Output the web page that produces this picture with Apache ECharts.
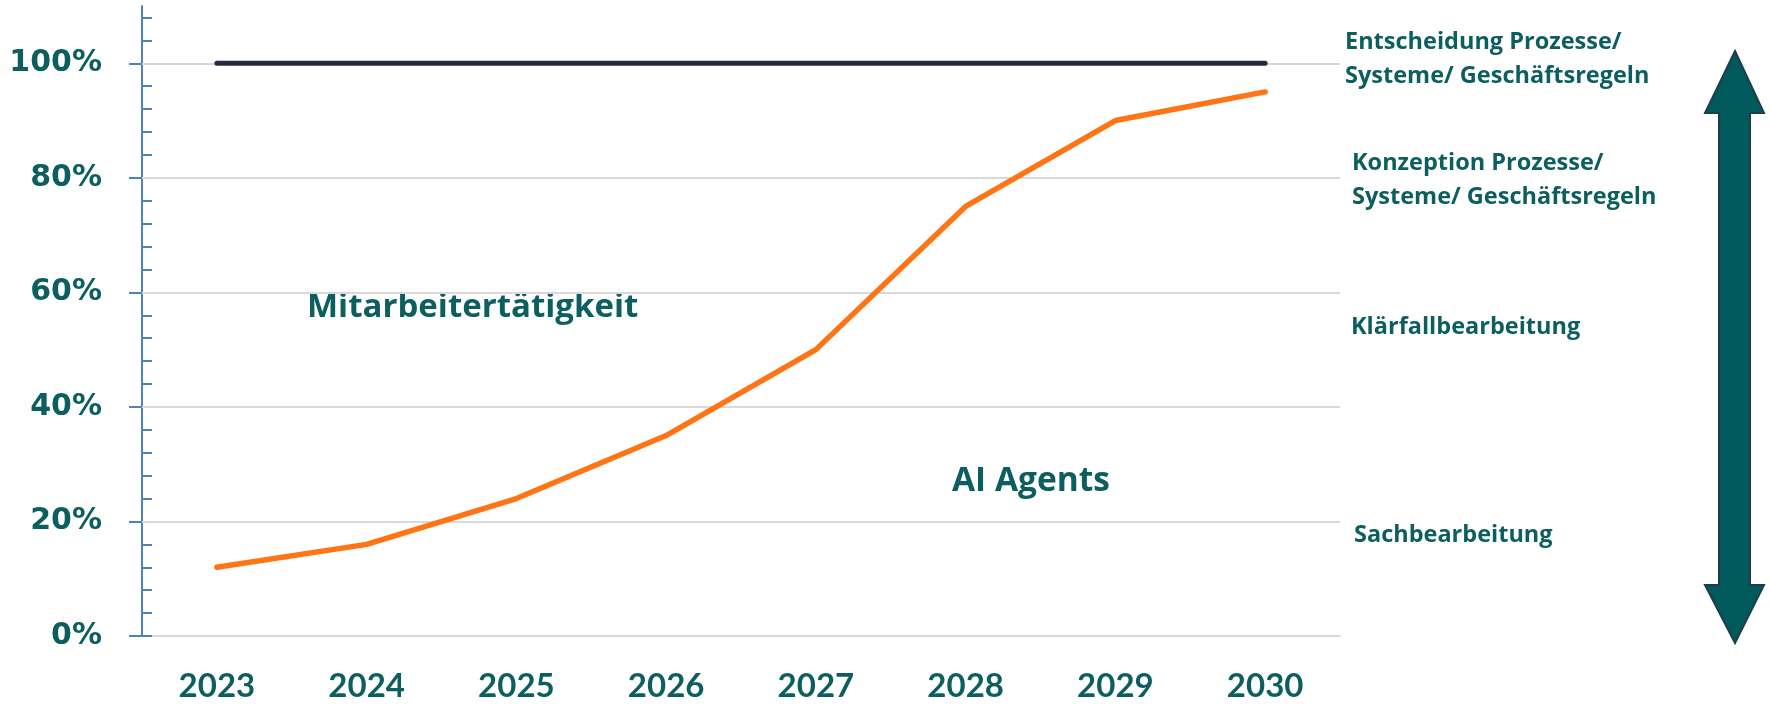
<!DOCTYPE html>
<html>
<head>
<meta charset="utf-8">
<script src="https://cdn.jsdelivr.net/npm/echarts@6/dist/echarts.min.js"></script>
<style>
  html, body { margin: 0; padding: 0; background: #fff; }
  #chart { width: 1770px; height: 704px; }
</style>
</head>
<body>
<div id="chart"></div>
<script>
// data
const years = ["2023", "2024", "2025", "2026", "2027", "2028", "2029", "2030"];
const aiShare = [12, 16, 24, 35, 50, 75, 90, 95];
const fullLine = [100, 100, 100, 100, 100, 100, 100, 100];
const majorTicks = [0, 20, 40, 60, 80, 100];
const minorTicks = [0, 4, 8, 12, 16, 20, 24, 28, 32, 36, 40, 44, 48, 52, 56, 60, 64, 68, 72, 76, 80, 84, 88, 92, 96, 100, 104, 108];
const sideLabels = [
  { lines: ["Entscheidung Prozesse/", "Systeme/ Geschäftsregeln"], x: 1345, y: 42 },
  { lines: ["Konzeption Prozesse/", "Systeme/ Geschäftsregeln"], x: 1352, y: 163 },
  { lines: ["Klärfallbearbeitung"], x: 1351, y: 327 },
  { lines: ["Sachbearbeitung"], x: 1354, y: 535 },
];

const teal = "#0d5f5f";
const chart = echarts.init(document.getElementById("chart"));

const graphics = [];
sideLabels.forEach((lbl) => {
  lbl.lines.forEach((t, i) => {
    graphics.push({
      type: "text",
      x: lbl.x,
      y: lbl.y + i * 34,
      style: { text: t, fill: teal, font: "bold 23.5px 'Open Sans'", verticalAlign: "middle" },
    });
  });
});
graphics.push(
  {
    type: "text", x: 307, y: 308,
    style: { text: "Mitarbeitertätigkeit", fill: teal, font: "bold 33px 'Open Sans'", verticalAlign: "middle" },
  },
  {
    type: "text", x: 952, y: 481,
    style: { text: "AI Agents", fill: teal, font: "bold 33.5px 'Open Sans'", verticalAlign: "middle" },
  },
  {
    // double arrow on the right
    type: "polygon",
    shape: {
      points: [
        [1735, 51], [1764, 113], [1750, 113], [1750, 585], [1764, 585],
        [1735, 643], [1705, 585], [1719, 585], [1719, 113], [1705, 113],
      ],
    },
    style: { fill: "#005a5c", stroke: "#1e3d4c", lineWidth: 2 },
  }
);

chart.setOption({
  animation: false,
  grid: { left: 142, right: 430, top: 6, bottom: 68 },
  xAxis: {
    type: "category",
    data: years,
    boundaryGap: true,
    axisLine: { lineStyle: { color: "#d9d9d9", width: 2 } },
    axisTick: { show: false },
    axisLabel: { color: teal, fontFamily: "Lato", fontWeight: "bold", fontSize: 33, margin: 34 },
  },
  yAxis: [
    {
      type: "value",
      min: 0,
      max: 110,
      interval: 20,
      axisLine: { show: true, lineStyle: { color: "#4f81bd", width: 2 } },
      axisTick: { show: true, customValues: majorTicks, length: 13, lineStyle: { color: "#4f81bd", width: 2 } },
      axisLabel: {
        customValues: majorTicks,
        color: teal,
        fontFamily: "DejaVu Sans",
        fontWeight: "bold",
        fontSize: 30,
        margin: 40,
        formatter: (v) => v + "%",
      },
      splitLine: { show: false },
    },
    {
      type: "value",
      min: 0,
      max: 110,
      interval: 20,
      position: "left",
      axisLine: { show: false },
      axisTick: { show: true, inside: true, customValues: minorTicks, length: 10, lineStyle: { color: "#4f81bd", width: 2 } },
      axisLabel: { show: false },
      splitLine: { show: false },
    },
  ],
  series: [
    {
      type: "line",
      data: fullLine,
      showSymbol: false,
      lineStyle: { color: "#262a3f", width: 5, cap: "round" },
      z: 3,
      markLine: {
        silent: true,
        symbol: "none",
        label: { show: false },
        lineStyle: { color: "#d9d9d9", width: 2, type: "solid" },
        data: majorTicks.slice(1).map((v) => ({ yAxis: v })),
        z: 1,
      },
    },
    {
      type: "line",
      data: aiShare,
      showSymbol: false,
      lineStyle: { color: "#ff7414", width: 5.5, cap: "round", join: "round" },
      z: 4,
    },
  ],
  graphic: graphics,
});
</script>
</body>
</html>
